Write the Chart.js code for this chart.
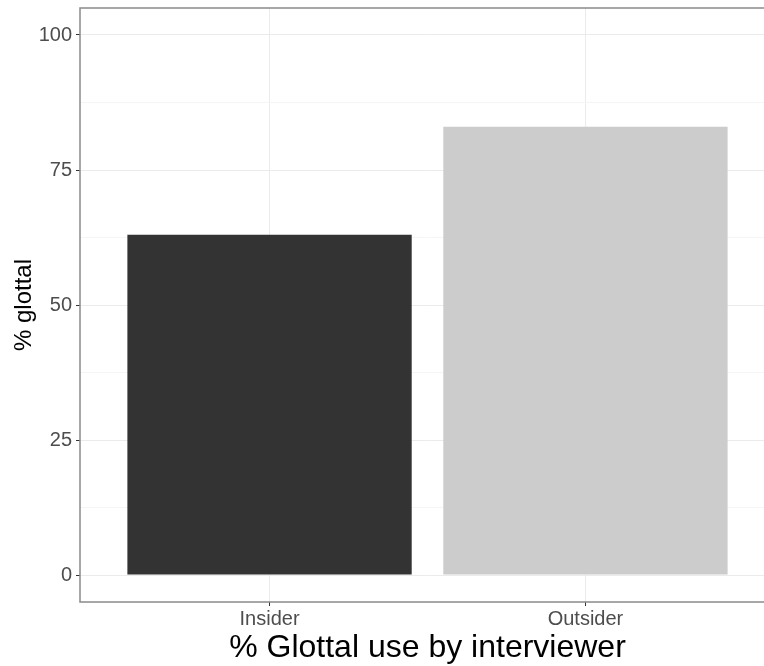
<!DOCTYPE html>
<html>
<head>
<meta charset="utf-8">
<script src="https://cdn.jsdelivr.net/npm/chart.js@4"></script>
<style>
  html, body { margin: 0; padding: 0; background: #fff; overflow: hidden; }
  #wrap { width: 782px; height: 666px; }
</style>
</head>
<body>
<div id="wrap"><canvas id="glottalChart" width="782" height="666"></canvas></div>
<script>
// Data
const categories = ['Insider', 'Outsider'];
const glottalPct = [63, 83];
const barColors = ['#333333', '#cccccc'];
const yMajorTicks = [0, 25, 50, 75, 100];
const yMinorTicks = [12.5, 37.5, 62.5, 87.5];

Chart.defaults.font.family = 'Arial, "Liberation Sans", sans-serif';

// ggplot-like panel border drawn over the bars
const panelBorder = {
    id: 'panelBorder',
    afterDatasetsDraw(chart) {
        const a = chart.chartArea;
        const ctx = chart.ctx;
        ctx.save();
        ctx.strokeStyle = '#8a8a8a';
        ctx.lineWidth = 1.5;
        ctx.strokeRect(a.left, a.top, a.right - a.left, a.bottom - a.top);
        ctx.restore();
    }
};

const isMajor = v => yMajorTicks.includes(v);

new Chart(document.getElementById('glottalChart'), {
    type: 'bar',
    data: {
        datasets: [{
            data: categories.map((c, i) => ({ x: i + 1, y: glottalPct[i] })),
            backgroundColor: barColors,
            borderWidth: 0,
            borderSkipped: false,
            categoryPercentage: 0.9,
            barPercentage: 1
        }]
    },
    options: {
        responsive: false,
        animation: false,
        layout: { padding: { top: 8, right: 7, left: 0, bottom: 0 } },
        plugins: {
            legend: { display: false },
            tooltip: { enabled: false }
        },
        scales: {
            x: {
                type: 'linear',
                min: 0.4,
                max: 2.6,
                offset: false,
                afterBuildTicks: scale => {
                    scale.ticks = categories.map((c, i) => ({ value: i + 1 }));
                },
                afterFit: scale => {
                    scale.height = 64;
                    scale.paddingLeft = 0;
                    scale.paddingRight = 0;
                },
                grid: {
                    offset: false,
                    color: '#ebebeb',
                    lineWidth: 1,
                    tickColor: '#333333',
                    tickLength: 4
                },
                border: { display: false },
                ticks: {
                    autoSkip: false,
                    maxRotation: 0,
                    padding: 1,
                    color: '#4d4d4d',
                    font: { size: 20 },
                    callback: v => categories[v - 1]
                },
                title: {
                    display: true,
                    text: '% Glottal use by interviewer',
                    color: '#000',
                    font: { size: 32, lineHeight: 1.1 },
                    padding: { top: 0, bottom: 0 }
                }
            },
            y: {
                min: -5,
                max: 105,
                afterBuildTicks: scale => {
                    scale.ticks = yMajorTicks.concat(yMinorTicks)
                        .sort((a, b) => a - b)
                        .map(v => ({ value: v }));
                },
                afterFit: scale => {
                    scale.width = 80;
                    scale.paddingTop = 0;
                    scale.paddingBottom = 0;
                },
                grid: {
                    color: ctx => isMajor(ctx.tick.value) ? '#ebebeb' : '#f5f5f5',
                    lineWidth: 1,
                    tickColor: ctx => isMajor(ctx.tick.value) ? '#333333' : 'rgba(0,0,0,0)',
                    tickLength: 4
                },
                border: { display: false },
                ticks: {
                    autoSkip: false,
                    padding: 4,
                    color: '#4d4d4d',
                    font: { size: 20 },
                    callback: v => isMajor(v) ? String(v) : ''
                },
                title: {
                    display: true,
                    text: '% glottal',
                    color: '#000',
                    font: { size: 24, lineHeight: 1.2 },
                    padding: { top: 10, bottom: 0 }
                }
            }
        }
    },
    plugins: [panelBorder]
});
</script>
</body>
</html>
